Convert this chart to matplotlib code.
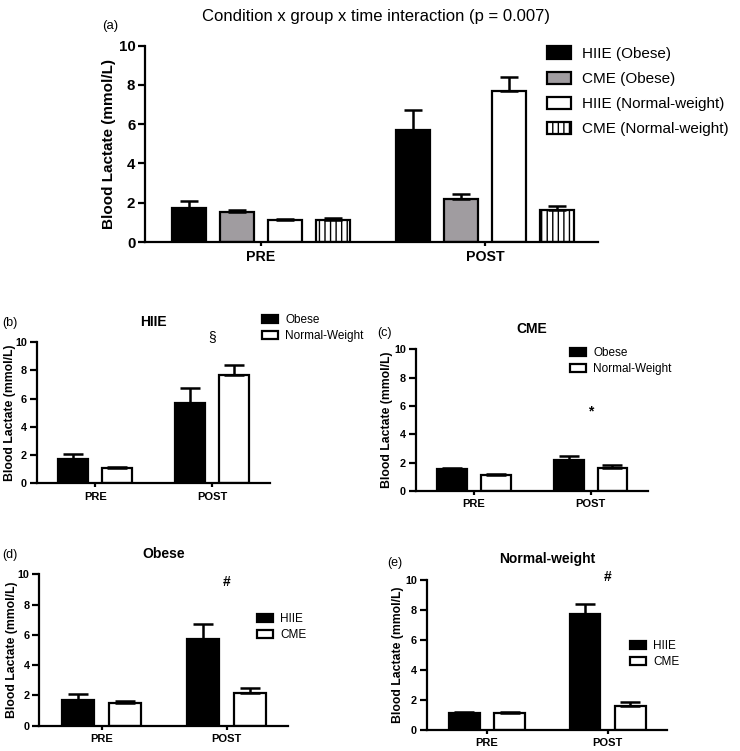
import numpy as np
import matplotlib
matplotlib.use('Agg')
import matplotlib.pyplot as plt

plt.rcParams['font.family'] = ['Liberation Sans', 'DejaVu Sans']
plt.rcParams['hatch.linewidth'] = 1.0

# values (mean and upper error bar)
time_points = ['PRE', 'POST']
hiie_obese = [1.73, 5.71]
hiie_obese_err = [0.35, 1.03]
cme_obese = [1.52, 2.19]
cme_obese_err = [0.12, 0.28]
hiie_normal = [1.11, 7.71]
hiie_normal_err = [0.08, 0.69]
cme_normal = [1.14, 1.63]
cme_normal_err = [0.08, 0.22]

W, H = 740, 751
fig = plt.figure(figsize=(W / 100, H / 100), dpi=100)


def add_axes_px(left, top, right, bottom):
    """axes placed by pixel box of the reference"""
    return fig.add_axes([left / W, 1 - bottom / H, (right - left) / W, (bottom - top) / H])


def draw_bars(ax, series, group_gap, width, capsize):
    """grouped bars, one bar per series inside each time point"""
    for i, (vals, errs, face, hatch, label) in enumerate(series):
        x = np.arange(len(time_points)) * group_gap + i
        ax.bar(x, vals, width, color=face, edgecolor='black', linewidth=1.6,
               hatch=hatch, label=label,
               yerr=[np.zeros(len(errs)), errs], capsize=capsize,
               error_kw=dict(elinewidth=1.8, capthick=1.8, ecolor='black'))
    n = len(series)
    centers = np.arange(len(time_points)) * group_gap + (n - 1) / 2
    return centers


def style_axes(ax, box, xlim, centers, ytick_size, xtick_size, ylab_size, ylab_x):
    for s in ['top', 'right']:
        ax.spines[s].set_visible(False)
    for s in ['left', 'bottom']:
        ax.spines[s].set_linewidth(1.6)
    ax.set_xlim(*xlim)
    ax.set_ylim(0, 10)
    ax.set_yticks(range(0, 11, 2), labels=[str(v) for v in range(0, 11, 2)],
                  fontweight='bold', fontsize=ytick_size)
    ax.set_xticks(centers, labels=time_points, fontweight='bold', fontsize=xtick_size)
    ax.tick_params(axis='y', length=5, width=1.6, pad=2)
    ax.tick_params(axis='x', length=3, width=1.6, pad=3)
    ax.set_ylabel('Blood Lactate (mmol/L)', fontsize=ylab_size, fontweight='bold', va='center')
    ax.yaxis.set_label_coords((ylab_x - box[0]) / (box[2] - box[0]), 0.5)


def add_legend(ax, left, top, fs, hl, hh, ls, tp):
    ax.legend(loc='upper left', bbox_to_anchor=(left / W, 1 - top / H),
              bbox_transform=fig.transFigure, frameon=False, borderpad=0,
              borderaxespad=0, fontsize=fs, handlelength=hl, handleheight=hh,
              handletextpad=tp, labelspacing=ls)


grey = '#a09ca0'

# (a) all four conditions
box_a = (145, 45.7, 598.3, 242)
ax_a = add_axes_px(*box_a)
c = draw_bars(ax_a, [(hiie_obese, hiie_obese_err, 'black', None, 'HIIE (Obese)'),
                     (cme_obese, cme_obese_err, grey, None, 'CME (Obese)'),
                     (hiie_normal, hiie_normal_err, 'white', None, 'HIIE (Normal-weight)'),
                     (cme_normal, cme_normal_err, 'white', '|||', 'CME (Normal-weight)')],
              group_gap=4.67, width=0.71, capsize=6.8)
style_axes(ax_a, box_a, (-0.91, 8.53), c, 10.8, 10.2, 11, 109)
add_legend(ax_a, 547, 46.5, 11, 1.57, 0.87, 0.69, 0.72)
fig.text(376 / W, 1 - 16 / H, 'Condition x group x time interaction (p = 0.007)',
         ha='center', va='center', fontsize=12)
fig.text(102 / W, 1 - 26 / H, '(a)', ha='left', va='center', fontsize=9.5)

small_panels = [
    # axes box, title, panel letter, series, legend corner, mark, mark y, ylabel x
    ((36.7, 342.3, 270, 483.3), 'HIIE', (2, 323, '(b)'),
     [(hiie_obese, hiie_obese_err, 'black', None, 'Obese'),
      (hiie_normal, hiie_normal_err, 'white', None, 'Normal-Weight')],
     (262, 314), '§', 10.4, 10.5),
    ((415.7, 349.3, 648, 491), 'CME', (377, 333, '(c)'),
     [(cme_obese, cme_obese_err, 'black', None, 'Obese'),
      (cme_normal, cme_normal_err, 'white', None, 'Normal-Weight')],
     (570, 347), '*', 5.6, 387),
    ((39.3, 574.3, 288, 725.7), 'Obese', (2, 555, '(d)'),
     [(hiie_obese, hiie_obese_err, 'black', None, 'HIIE'),
      (cme_obese, cme_obese_err, 'white', None, 'CME')],
     (257, 613), '#', 9.5, 11.7),
    ((426.7, 580, 667, 730), 'Normal-weight', (387, 563, '(e)'),
     [(hiie_normal, hiie_normal_err, 'black', None, 'HIIE'),
      (cme_normal, cme_normal_err, 'white', None, 'CME')],
     (630, 640), '#', 10.2, 398),
]

for box, title, letter, series, leg, mark, mark_y, ylab_x in small_panels:
    ax = add_axes_px(*box)
    c = draw_bars(ax, series, group_gap=2.66, width=0.68, capsize=7)
    style_axes(ax, box, (-0.83, 4.47), c, 7.8, 8, 8.8, ylab_x)
    add_legend(ax, leg[0], leg[1], 8.5, 1.36, 0.62, 0.37, 0.6)
    ax.set_title(title, fontsize=10, fontweight='bold', pad=12)
    ax.text(c[1], mark_y, mark, ha='center', va='center', fontsize=10,
            fontweight='normal' if mark == '§' else 'bold', clip_on=False)
    fig.text(letter[0] / W, 1 - letter[1] / H, letter[2], ha='left', va='center', fontsize=9)

plt.savefig('out.png', dpi=100)
